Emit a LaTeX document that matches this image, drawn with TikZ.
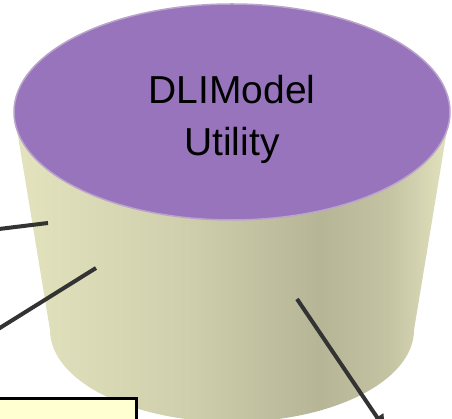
\documentclass[tikz,border=0pt]{standalone}
\usepackage{fontspec}
\setmainfont{Liberation Sans}
\usepackage{tikz}
\usetikzlibrary{arrows.meta,positioning,shapes.geometric}
\usepackage{xcolor}
\definecolor{lidpurple}{HTML}{9874BD}
\definecolor{lidrim}{HTML}{BBA4CB}
\definecolor{bodylight}{HTML}{E3E3BE}
\definecolor{bodydark}{HTML}{B6B697}
\definecolor{notefill}{HTML}{FFFFD2}
\definecolor{wiregray}{HTML}{333333}
\pgfdeclarehorizontalshading{bodyshade}{100bp}{color(0bp)=(bodylight); color(25bp)=(bodylight); color(45bp)=(bodylight!55!bodydark); color(60bp)=(bodydark); color(68bp)=(bodydark!70!bodylight); color(75bp)=(bodylight); color(100bp)=(bodylight)}

\begin{document}
\begin{tikzpicture}[x=1pt, y=1pt, thick]
\tikzset{wire/.style={draw=wiregray, line width=4pt}}
\clip (0,0) rectangle (452,419);
\path[shading=bodyshade] (14,307) -- (50,89) arc[start angle=180, end angle=360, x radius=182, y radius=92] -- (450,307) -- cycle;
\node[ellipse, fill=lidpurple, draw=lidrim, line width=1.5pt, minimum width=436pt, minimum height=216pt, inner sep=0pt]  (util) at (232,307) {};
\node[align=center, font=\fontsize{39}{52}\selectfont, below=7pt of util.center, anchor=center] (title) {DLIModel\\Utility};
\node[rectangle, fill=notefill, draw=black, line width=3pt, minimum width=160pt, minimum height=40pt, outer sep=0pt, anchor=north east] (note) at (136,20.5) {};
\coordinate (in1) at (-5,189.5);
\coordinate (hit1) at (48,196);
\coordinate (in2) at (-5,88);
\coordinate (hit2) at (96,151);
\coordinate (hit3) at (297,120);
\coordinate (out3) at (385,-10);
\draw[wire] (in1) -- (hit1);
\draw[wire] (in2) -- (hit2);
\draw[wire, -{Triangle[length=14pt, width=14pt]}] (hit3) -- (out3);
\end{tikzpicture}
\end{document}
